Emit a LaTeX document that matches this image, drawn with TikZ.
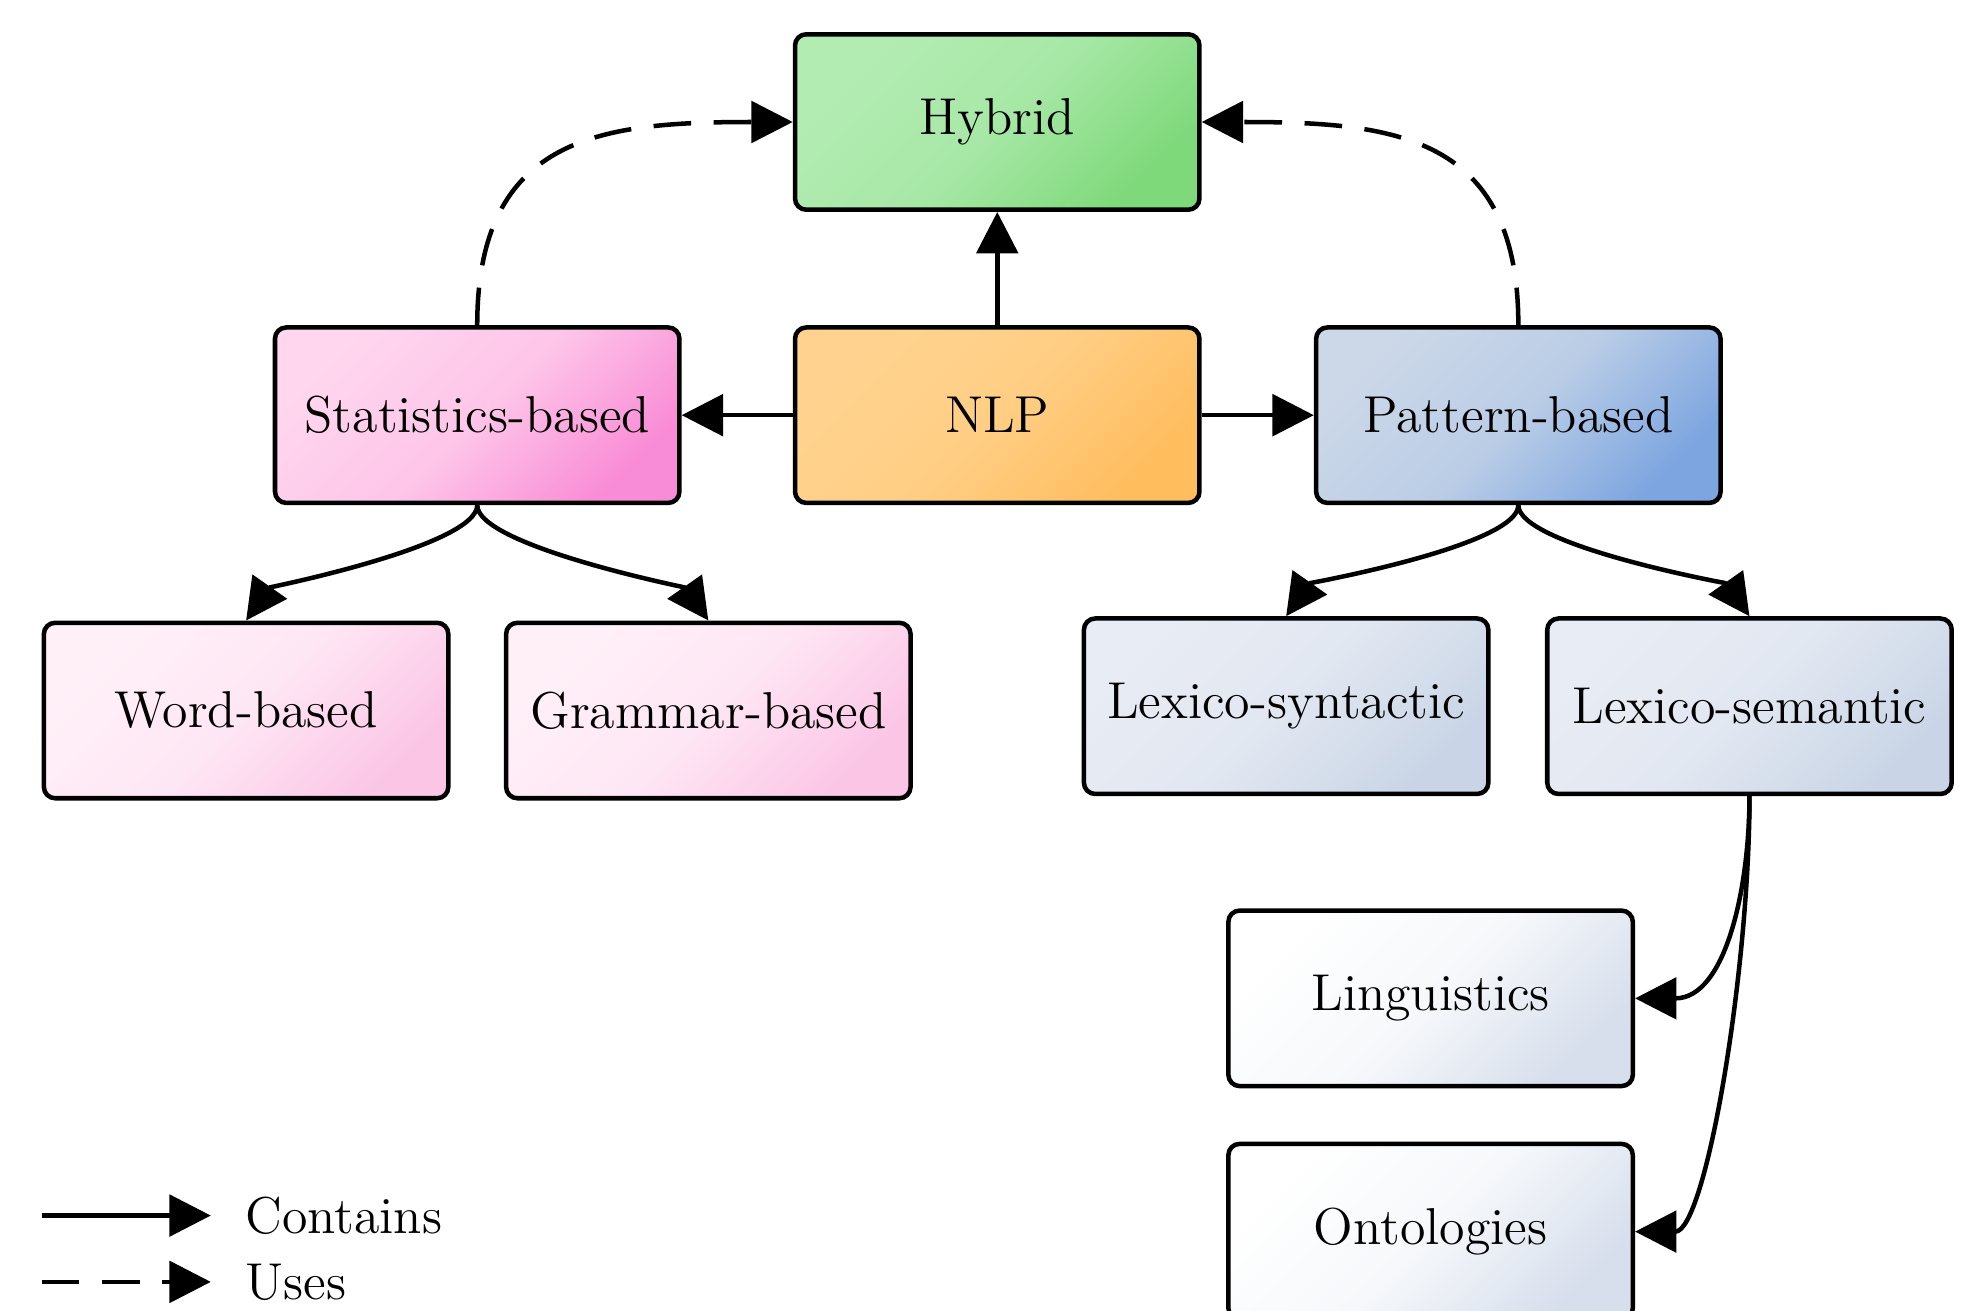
\documentclass[tikz,border=0pt]{standalone}
\usetikzlibrary{arrows.meta}

\definecolor{hybridA}{HTML}{B3ECB3}
\definecolor{hybridB}{HTML}{7ED97A}
\definecolor{nlpA}{HTML}{FFD38F}
\definecolor{nlpB}{HTML}{FFBD5E}
\definecolor{statA}{HTML}{FFD6EE}
\definecolor{statB}{HTML}{F98CD6}
\definecolor{patA}{HTML}{CCD8E8}
\definecolor{patB}{HTML}{7DA6E0}
\definecolor{wordA}{HTML}{FFF0F8}
\definecolor{wordB}{HTML}{FBC6E6}
\definecolor{lexA}{HTML}{E8ECF4}
\definecolor{lexB}{HTML}{C9D5E6}
\definecolor{leafA}{HTML}{FFFFFF}
\definecolor{leafB}{HTML}{D7DFEC}

\newcommand{\labelsize}{\fontsize{13.8pt}{16.5pt}\selectfont}

\tikzset{
  box/.style={draw, line width=1.2pt, rounded corners=3pt, minimum width=3.78cm,
    minimum height=1.64cm, inner sep=0pt, font=\labelsize},
  tint/.style 2 args={left color=#1, right color=#2, middle color=#1!78!#2, shading angle=45},
  contains/.style={line width=1.2pt, -{Triangle[length=11pt,width=11pt]}},
  uses/.style={contains, dash pattern=on 10pt off 6pt},
}

\begin{document}
\begin{tikzpicture}
    \useasboundingbox (0,0) rectangle (18.411,-12.243);

    % Nodes
    \node[box, tint={hybridA}{hybridB}] at (9.32, -1.14) (hybrid) {Hybrid};
    \node[box, tint={nlpA}{nlpB}] at (9.32, -3.88) (nlp) {NLP};
    \node[box, tint={statA}{statB}] at (4.46, -3.88) (stat) {Statistics-based};
    \node[box, tint={patA}{patB}] at (14.19, -3.88) (pattern) {Pattern-based};
    \node[box, tint={wordA}{wordB}] at (2.30, -6.64) (word) {Word-based};
    \node[box, tint={wordA}{wordB}] at (6.62, -6.64) (grammar) {Grammar-based};
    \node[box, tint={lexA}{lexB}] at (12.02, -6.60) (lexsyn) {Lexico-syntactic};
    \node[box, tint={lexA}{lexB}] at (16.35, -6.60) (lexsem) {Lexico-semantic};
    \node[box, tint={leafA}{leafB}] at (13.37, -9.33) (ling) {Linguistics};
    \node[box, tint={leafA}{leafB}] at (13.37, -11.51) (onto) {Ontologies};

    \draw[contains] (nlp) -- (hybrid);
    \draw[contains] (nlp) -- (stat);
    \draw[contains] (nlp) -- (pattern);

    \draw[uses] (stat.north) to[out=90, in=180, looseness=1.3] (hybrid.west);
    \draw[uses] (pattern.north) to[out=90, in=0, looseness=1.3] (hybrid.east);

    \draw[contains] (stat.south) to[out=-90, in=55, looseness=0.4] (word.north);
    \draw[contains] (stat.south) to[out=-90, in=125, looseness=0.4] (grammar.north);

    \draw[contains] (pattern.south) to[out=-90, in=55, looseness=0.4] (lexsyn.north);
    \draw[contains] (pattern.south) to[out=-90, in=125, looseness=0.4] (lexsem.north);

    \draw[contains] (lexsem.south) to[out=-90, in=0] (ling.east);
    \draw[contains] (lexsem.south) to[out=-90, in=0, in looseness=0.4] (onto.east);

    % Legend
    \coordinate (solidA) at (0.39, -11.36);
    \coordinate (solidB) at (1.97, -11.36);
    \coordinate (dashA) at (0.39, -11.98);
    \coordinate (dashB) at (1.97, -11.98);
    \node[font=\labelsize, anchor=west] at (2.17, -11.36) (containsL) {Contains};
    \node[font=\labelsize, anchor=west] at (2.17, -11.98) (usesL) {Uses};
    \draw[contains] (solidA) -- (solidB);
    \draw[uses] (dashA) -- (dashB);
  \end{tikzpicture}
\end{document}
